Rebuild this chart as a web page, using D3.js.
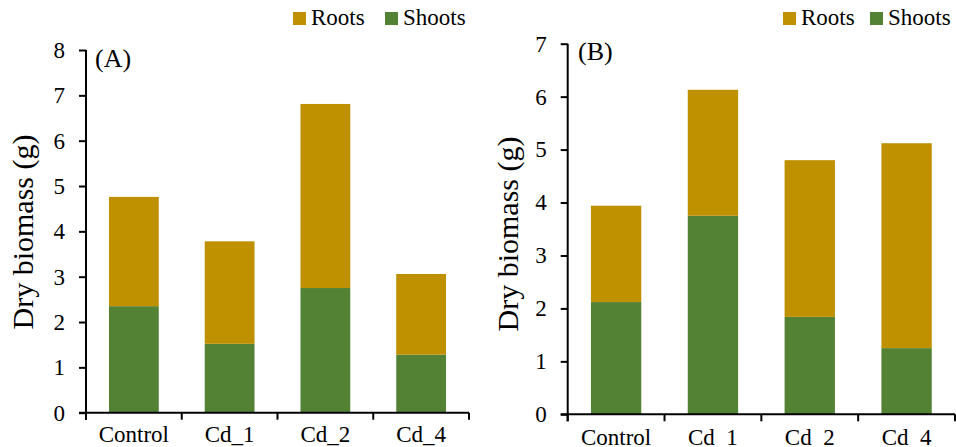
<!DOCTYPE html>
<html>
<head>
<meta charset="utf-8">
<script src="https://cdn.jsdelivr.net/npm/d3@7"></script>
<style>
  html, body { margin: 0; padding: 0; background: #fff; }
  svg { display: block; }
</style>
</head>
<body>
<svg id="chart" width="956" height="447"></svg>
<script>
const categories = ["Control", "Cd_1", "Cd_2", "Cd_4"];
const seriesNames = ["Roots", "Shoots"];
const shootsA = [2.35, 1.52, 2.75, 1.28];
const rootsA  = [2.41, 2.26, 4.06, 1.78];
const shootsB = [2.12, 3.75, 1.84, 1.25];
const rootsB  = [1.82, 2.38, 2.96, 3.87];
const ticksA = [0, 1, 2, 3, 4, 5, 6, 7, 8];
const ticksB = [0, 1, 2, 3, 4, 5, 6, 7];
const colors = { Roots: "#BF9000", Shoots: "#548235" };
const FONT = "'Liberation Serif', 'Times New Roman', 'DejaVu Serif', serif";

const svg = d3.select("#chart");

function panel(cfg) {
  const g = svg.append("g").style("font-family", FONT);
  const x = d3.scaleBand().domain(categories).range([cfg.x0, cfg.x1])
    .paddingInner(0.48).paddingOuter(0.24);
  const y = d3.scaleLinear().domain([0, d3.max(cfg.ticks)]).range([cfg.y0, cfg.y1]);

  const rows = categories.map((c, i) => ({ cat: c, Shoots: cfg.shoots[i], Roots: cfg.roots[i] }));
  const stack = d3.stack().keys(["Shoots", "Roots"])(rows);

  g.selectAll("g.series").data(stack).join("g")
    .attr("fill", d => colors[d.key])
    .selectAll("rect").data(d => d).join("rect")
    .attr("x", d => x(d.data.cat))
    .attr("width", x.bandwidth())
    .attr("y", d => y(d[1]))
    .attr("height", d => y(d[0]) - y(d[1]));

  // y axis
  const ya = g.append("g").attr("transform", `translate(${cfg.x0},0)`)
    .call(d3.axisLeft(y).tickValues(cfg.ticks).tickSize(7).tickPadding(14).tickFormat(d3.format("d")));
  ya.attr("font-family", null).attr("font-size", null);
  ya.selectAll("path, line").attr("stroke", "#000").attr("stroke-width", 2);
  ya.select("path.domain").attr("d", `M0,${cfg.y0 + 7}V${cfg.y1}`);
  ya.selectAll("text").style("font-size", "23px").style("font-family", FONT).attr("fill", "#000");

  // x axis
  const xa = g.append("g").attr("transform", `translate(0,${cfg.y0})`);
  xa.append("line").attr("x1", cfg.x0 - 7).attr("x2", cfg.x1)
    .attr("stroke", "#000").attr("stroke-width", 2);
  const step = x.step();
  const bounds = d3.range(categories.length + 1).map(i => cfg.x0 + i * step);
  xa.selectAll("line.tk").data(bounds).join("line").attr("class", "tk")
    .attr("x1", d => d).attr("x2", d => d).attr("y1", 0).attr("y2", 7)
    .attr("stroke", "#000").attr("stroke-width", 2);
  xa.selectAll("text").data(categories).join("text")
    .attr("x", d => x(d) + x.bandwidth() / 2)
    .attr("y", cfg.labelY - cfg.y0)
    .attr("text-anchor", "middle")
    .style("font-size", "23px").style("font-family", FONT)
    .text(d => d);

  // axis title
  g.append("text")
    .attr("transform", `translate(${cfg.titleX},${cfg.titleY}) rotate(-90)`)
    .attr("text-anchor", "middle")
    .style("font-size", "30px").style("font-family", FONT)
    .text("Dry biomass (g)");

  // panel label
  g.append("text").attr("x", cfg.tagX).attr("y", cfg.tagY)
    .style("font-size", "26px").style("font-family", FONT).text(cfg.tag);

  // legend
  const lg = g.append("g");
  seriesNames.forEach((s, i) => {
    lg.append("rect").attr("x", cfg.legX[i]).attr("y", 12).attr("width", 13).attr("height", 13)
      .attr("fill", colors[s]);
    lg.append("text").attr("x", cfg.legX[i] + 18).attr("y", 25)
      .style("font-size", "23px").style("font-family", FONT).text(s);
  });
}

panel({ x0: 86, x1: 469, y0: 412.7, y1: 50, ticks: ticksA, shoots: shootsA, roots: rootsA,
  labelY: 442, titleX: 33, titleY: 232, tag: "(A)", tagX: 95, tagY: 66.5, legX: [293, 385] });
panel({ x0: 567.7, x1: 955, y0: 414.3, y1: 43.7, ticks: ticksB, shoots: shootsB, roots: rootsB,
  labelY: 444.7, titleX: 517.5, titleY: 234, tag: "(B)", tagX: 578, tagY: 60, legX: [783, 870] });
</script>
</body>
</html>
